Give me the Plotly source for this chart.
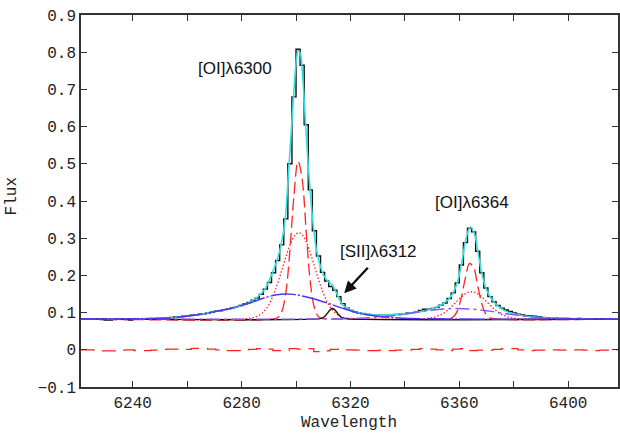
import numpy as np
import plotly.graph_objects as go

# ---------------------------------------------------------------------------
# Observed spectrum: fluxes in 1.5 A bins, first bin centred at 6221.25 A
# ---------------------------------------------------------------------------
first_bin_centre = 6221.25
bin_width = 1.5
flux_obs = [
    0.083, 0.083, 0.082, 0.083, 0.082, 0.081, 0.080, 0.080, 0.081, 0.082,
    0.082, 0.081, 0.080, 0.082, 0.083, 0.083, 0.083, 0.084, 0.084, 0.085,
    0.085, 0.086, 0.087, 0.088, 0.089, 0.090, 0.091, 0.093, 0.094, 0.096,
    0.097, 0.099, 0.101, 0.104, 0.105, 0.108, 0.110, 0.113, 0.116, 0.119,
    0.123, 0.127, 0.133, 0.139, 0.149, 0.163, 0.181, 0.207, 0.240, 0.282,
    0.352, 0.500, 0.680, 0.808, 0.765, 0.605, 0.430, 0.320, 0.252, 0.208,
    0.185, 0.170, 0.160, 0.143, 0.124, 0.112, 0.106, 0.102, 0.099, 0.097,
    0.095, 0.094, 0.093, 0.093, 0.093, 0.093, 0.094, 0.095, 0.096, 0.097,
    0.099, 0.100, 0.102, 0.106, 0.109, 0.109, 0.111, 0.114, 0.120, 0.126,
    0.138, 0.153, 0.180, 0.228, 0.288, 0.327, 0.317, 0.265, 0.207, 0.166,
    0.143, 0.129, 0.119, 0.112, 0.107, 0.103, 0.099, 0.096, 0.094, 0.092,
    0.091, 0.090, 0.089, 0.087, 0.086, 0.085, 0.085, 0.084, 0.084, 0.084,
    0.083, 0.083, 0.084, 0.083, 0.083, 0.083, 0.082, 0.083, 0.083, 0.083,
    0.083, 0.083, 0.083,
]

# Total fitted model
fit_wl = [
    6221, 6240, 6250, 6254, 6258, 6264.6, 6270.8, 6276.8, 6281, 6283,
    6285, 6287, 6288.5, 6290, 6291.5, 6293, 6294.5, 6296, 6297, 6298,
    6299, 6300, 6300.8, 6301.6, 6302.5, 6303.5, 6304.5, 6305.5, 6306.5, 6307.5,
    6308.5, 6310, 6311, 6312, 6313.5, 6315, 6317, 6318.8, 6320, 6322.5,
    6325, 6330, 6335, 6340, 6345, 6348, 6350, 6353, 6355.5, 6357.5,
    6359.5, 6361, 6362.5, 6364, 6365.5, 6367, 6368.5, 6370, 6372, 6374,
    6377, 6380, 6384, 6388, 6393, 6400, 6419,
]
fit_flux = [
    0.083, 0.083, 0.0845, 0.0858, 0.0885, 0.095, 0.1035, 0.113, 0.121, 0.128,
    0.137, 0.150, 0.162, 0.184, 0.210, 0.240, 0.282, 0.350, 0.451, 0.560,
    0.670, 0.769, 0.804, 0.795, 0.728, 0.610, 0.493, 0.400, 0.322, 0.270,
    0.236, 0.203, 0.190, 0.183, 0.172, 0.150, 0.122, 0.111, 0.107, 0.101,
    0.098, 0.093, 0.094, 0.0975, 0.102, 0.106, 0.110, 0.119, 0.132, 0.150,
    0.187, 0.239, 0.299, 0.330, 0.313, 0.255, 0.198, 0.161, 0.135, 0.119,
    0.104, 0.097, 0.091, 0.088, 0.085, 0.0838, 0.083,
]

# Narrow [OI] components
narrow_wl = [
    6221.0, 6291.75, 6293.25, 6294.75, 6296.25, 6297.75, 6299.25, 6300.75,
    6302.25, 6303.75, 6305.25, 6306.75, 6308.25, 6309.75, 6311.25,
    6354.75, 6356.25, 6357.75, 6359.25, 6360.75, 6362.25, 6363.75, 6365.25,
    6366.75, 6368.25, 6369.75, 6371.25, 6372.75, 6419.0,
]
narrow_flux = [
    0.083, 0.083, 0.0865, 0.102, 0.153, 0.266, 0.416, 0.507,
    0.459, 0.316, 0.183, 0.113, 0.089, 0.084, 0.083,
    0.083, 0.084, 0.088, 0.104, 0.141, 0.194, 0.232, 0.221,
    0.173, 0.124, 0.096, 0.086, 0.083, 0.083,
]

# Intermediate-width [OI] components
medium_wl = [
    6221, 6281, 6283, 6284.5, 6286, 6287.5, 6289, 6290.5, 6292, 6293.5,
    6295, 6296.5, 6298, 6299.5, 6301, 6302.5, 6304, 6305.5, 6307, 6308.5,
    6310, 6311.5, 6313, 6314.5, 6316, 6317.5, 6319, 6321,
    6344.5, 6347.5, 6349.5, 6351, 6352.5, 6354, 6355.5, 6357, 6358.5, 6360,
    6361.5, 6363, 6364.5, 6366, 6367.5, 6369, 6370.5, 6372, 6373.5, 6375,
    6376.5, 6378, 6379.5, 6381.5, 6384.5, 6419,
]
medium_flux = [
    0.083, 0.083, 0.085, 0.087, 0.0912, 0.0985, 0.110, 0.128, 0.153, 0.184,
    0.219, 0.255, 0.286, 0.307, 0.315, 0.307, 0.286, 0.255, 0.219, 0.184,
    0.153, 0.128, 0.110, 0.0985, 0.0912, 0.087, 0.085, 0.083,
    0.083, 0.084, 0.086, 0.088, 0.092, 0.097, 0.105, 0.115, 0.126, 0.137,
    0.147, 0.154, 0.156, 0.154, 0.147, 0.137, 0.126, 0.115, 0.105, 0.097,
    0.092, 0.088, 0.086, 0.084, 0.083, 0.083,
]

# Broad component under [OI]6300
broad1_wl = [6221, 6250, 6254, 6258.5, 6264.6, 6270.8, 6276.8, 6283, 6289, 6293,
             6296, 6299, 6305, 6311, 6317, 6323, 6329, 6335, 6342, 6419]
broad1_flux = [0.083, 0.084, 0.0855, 0.089, 0.095, 0.1035, 0.113, 0.126, 0.141, 0.148,
               0.150, 0.149, 0.140, 0.127, 0.112, 0.099, 0.091, 0.087, 0.084, 0.083]

# Broad component under [OI]6364
broad2_wl = [6221, 6320, 6328, 6335, 6341, 6347, 6353, 6359, 6365, 6371,
             6377, 6383, 6390, 6398, 6419]
broad2_flux = [0.083, 0.084, 0.087, 0.091, 0.097, 0.104, 0.109, 0.111, 0.109, 0.104,
               0.097, 0.091, 0.086, 0.084, 0.083]

# [SII]6312 component
sii_wl = [6221, 6308, 6309.5, 6310.5, 6311.5, 6312.5, 6313.4, 6314.3, 6315.3, 6316.3,
          6317.3, 6319, 6419]
sii_flux = [0.083, 0.083, 0.085, 0.0895, 0.098, 0.107, 0.111, 0.107, 0.098, 0.0895,
            0.085, 0.083, 0.083]

# Residuals (data - model), 3 A steps from 6221 A
resid_start = 6221
resid_step = 3
resid = [
    0.000, 0.000, -0.001, -0.003, -0.003, -0.001, 0.000, -0.002, -0.002, -0.001,
    0.001, 0.002, 0.002, 0.001, 0.004, 0.004, 0.002, 0.000, -0.002, -0.002,
    0.000, 0.001, 0.003, 0.002, -0.002, -0.002, 0.003, 0.002, 0.003, -0.005,
    -0.003, 0.001, 0.002, 0.000, -0.001, -0.002, -0.002, -0.001, -0.002, -0.001,
    -0.001, 0.001, 0.003, 0.002, 0.000, -0.002, 0.002, 0.003, -0.002, -0.001,
    -0.001, 0.001, 0.003, 0.003, 0.000, -0.002, -0.001, -0.001, 0.000, -0.001,
    -0.001, 0.000, -0.001, -0.002, -0.001, -0.001, 0.000,
]

x_ticks = [6240, 6260, 6280, 6300, 6320, 6340, 6360, 6380, 6400]
x_tick_text = ["6240", "", "6280", "", "6320", "", "6360", "", "6400"]
y_ticks = [-0.1, 0.0, 0.1, 0.2, 0.3, 0.4, 0.5, 0.6, 0.7, 0.8, 0.9]
y_tick_text = ["\u22120.1", "0", "0.1", "0.2", "0.3", "0.4", "0.5", "0.6", "0.7", "0.8", "0.9"]

obs_wl = first_bin_centre + bin_width * np.arange(len(flux_obs))
resid_wl = resid_start + resid_step * np.arange(len(resid))

RED = "#ff2222"
fig = go.Figure()

fig.add_trace(go.Scatter(x=obs_wl, y=flux_obs, mode="lines", line_shape="hvh",
                         line=dict(color="#111111", width=1.4)))
fig.add_trace(go.Scatter(x=fit_wl, y=fit_flux, mode="lines", line_shape="spline",
                         line=dict(color="#33e0e0", width=1.6)))
fig.add_trace(go.Scatter(x=narrow_wl, y=narrow_flux, mode="lines", line_shape="spline",
                         line=dict(color=RED, width=1.3, dash="12px,5px")))
fig.add_trace(go.Scatter(x=medium_wl, y=medium_flux, mode="lines", line_shape="spline",
                         line=dict(color=RED, width=1.3, dash="1.5px,2px")))
fig.add_trace(go.Scatter(x=sii_wl, y=sii_flux, mode="lines", line_shape="spline",
                         line=dict(color="#111111", width=1.4)))
fig.add_trace(go.Scatter(x=broad2_wl, y=broad2_flux, mode="lines", line_shape="spline",
                         line=dict(color="#8a55f0", width=1.4, dash="14px,4px,3px,4px")))
fig.add_trace(go.Scatter(x=broad1_wl, y=broad1_flux, mode="lines", line_shape="spline",
                         line=dict(color="#5233f5", width=1.5, dash="26px,2px,2px,2px")))
fig.add_trace(go.Scatter(x=resid_wl, y=resid, mode="lines", line_shape="hvh",
                         line=dict(color=RED, width=1.3, dash="14px,8px")))

axis_common = dict(
    showline=True, linecolor="#333333", linewidth=1.5, mirror="ticks",
    ticks="inside", ticklen=6, tickwidth=1.3, tickcolor="#333333",
    showgrid=False, zeroline=False,
    tickfont=dict(family="Liberation Mono", size=16, color="#222222"),
)

fig.update_layout(
    width=620, height=434,
    margin=dict(l=81, r=0, t=15, b=47),
    paper_bgcolor="white", plot_bgcolor="white",
    showlegend=False,
    xaxis=dict(range=[6221, 6418.3], tickvals=x_ticks, ticktext=x_tick_text, **axis_common),
    yaxis=dict(range=[-0.1, 0.9], tickvals=y_ticks, ticktext=y_tick_text, **axis_common),
)

label_font = dict(family="Liberation Sans", size=17, color="#111111")
mono_font = dict(family="Liberation Mono", size=16, color="#222222")
fig.add_annotation(x=6277.4, y=0.757, text="[OI]\u03bb6300", showarrow=False, font=label_font)
fig.add_annotation(x=6364.7, y=0.395, text="[OI]\u03bb6364", showarrow=False, font=label_font)
fig.add_annotation(x=6330.3, y=0.263, text="[SII]\u03bb6312", showarrow=False, font=label_font)
fig.add_annotation(x=6317.7, y=0.152, text="", showarrow=True, arrowhead=2, arrowsize=1,
                   arrowwidth=2.4, arrowcolor="#111111", ax=25, ay=-27)
fig.add_annotation(xref="paper", yref="paper", x=0.499, y=-0.097, text="Wavelength",
                   xanchor="center", yanchor="middle", showarrow=False, font=mono_font)
fig.add_annotation(xref="paper", yref="paper", x=-0.128, y=0.513, text="Flux",
                   xanchor="center", yanchor="middle", textangle=-90, showarrow=False,
                   font=mono_font)

fig.write_html("out.html")
